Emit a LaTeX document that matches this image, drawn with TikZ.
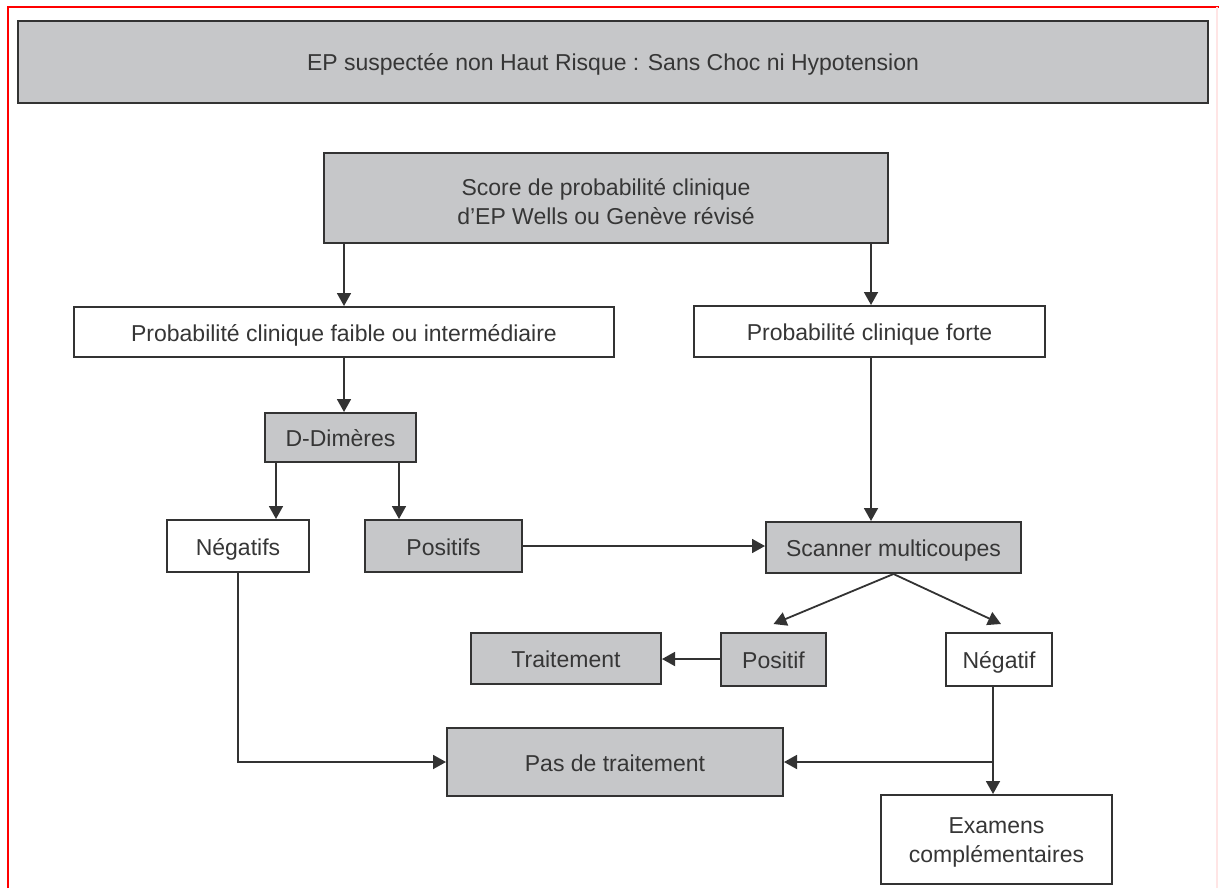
\documentclass[tikz,border=0pt]{standalone}
\usepackage{fontspec}
\setmainfont{Liberation Sans}
\usetikzlibrary{arrows.meta,calc}
\definecolor{boxgray}{HTML}{C6C7C9}
\definecolor{linegray}{HTML}{333333}
\definecolor{txtgray}{HTML}{363636}
\tikzset{
  box/.style={draw=linegray, line width=1pt, fill=white, inner sep=0pt, align=center,
    text=txtgray, font=\fontsize{11.5}{14.5}\selectfont},
  grey/.style={box, fill=boxgray},
  one/.style={text height=9pt, text depth=0pt},
  arr/.style={draw=linegray, line width=0.9pt, -{Triangle[length=6.5pt,width=7pt]}},
}
\begin{document}
\begin{tikzpicture}[x=0.5pt,y=-0.5pt]
\useasboundingbox (0,0) rectangle (1219,888);
\draw[red, line width=0.8pt] (8,888) -- (8,7) -- (1219,7);
\draw[red!10, line width=0.8pt] (1217,7) -- (1217,888);

\node[grey, one, minimum width=595pt, minimum height=41pt] (title) at (613,62) {EP suspectée non Haut Risque : Sans Choc ni Hypotension};
\node[grey, minimum width=282pt, minimum height=45pt, text height=26pt, text depth=0pt] (score) at (606,198) {Score de probabilité clinique\\d'EP Wells ou Genève révisé};
\node[box, one, minimum width=270pt, minimum height=25pt] (faible) at (344,332) {Probabilité clinique faible ou intermédiaire};
\node[box, one, minimum width=175.5pt, minimum height=25.5pt] (forte) at (869.5,331.5) {Probabilité clinique forte};
\node[grey, one, minimum width=75.5pt, minimum height=24.5pt] (ddim) at (340.5,437.5) {D-Dimères};
\node[box, one, minimum width=71pt, minimum height=26pt] (negs) at (238,546) {Négatifs};
\node[grey, one, minimum width=78.5pt, minimum height=26pt] (poss) at (443.5,546) {Positifs};
\node[grey, one, minimum width=127.5pt, minimum height=25.5pt] (scan) at (893.5,547.5) {Scanner multicoupes};
\node[grey, one, minimum width=52.5pt, minimum height=26.5pt] (posit) at (773.5,659.5) {Positif};
\node[box, one, minimum width=53pt, minimum height=26.5pt] (negat) at (999,659.5) {Négatif};
\node[grey, one, minimum width=95pt, minimum height=25.5pt] (trait) at (566,658.5) {Traitement};
\node[grey, one, minimum width=168pt, minimum height=34pt] (pas) at (615,762) {Pas de traitement};
\node[box, minimum width=115.5pt, minimum height=44.5pt, text height=22.5pt, text depth=0pt] (exam) at (996.5,839.5) {Examens\\complémentaires};

\coordinate (d1) at ([xshift=6pt]ddim.south west);
\coordinate (d2) at ([xshift=-9pt]ddim.south east);
\coordinate (f1) at ([xshift=0.75pt]forte.north);
\coordinate (p1) at ([yshift=0.25pt]posit.west);
\coordinate (n1) at ([xshift=-3pt]negat.south);

\draw[arr] (score.south -| faible.north) -- (faible.north);
\draw[arr] (score.south -| f1) -- (f1);
\draw[arr] (faible.south) -- (faible.south |- ddim.north);
\draw[arr] (d1) -- (d1 |- negs.north);
\draw[arr] (d2) -- (d2 |- poss.north);
\draw[arr] (forte.south -| f1) -- (f1 |- scan.north);
\draw[arr] (poss.east) -- (poss.east -| scan.west);
\draw[arr] (scan.south) -- ([yshift=4pt]posit.north);
\draw[arr] (scan.south) -- ([yshift=4pt,xshift=1pt]negat.north);
\draw[arr] (p1) -- (p1 -| trait.east);
\draw[arr] (negs.south) -- (negs.south |- pas.west) -- (pas.west);
\draw[arr] (n1) -- (n1 |- pas.east) -- (pas.east);
\draw[arr] (n1 |- pas.east) -- (n1 |- exam.north);
\end{tikzpicture}
\end{document}
